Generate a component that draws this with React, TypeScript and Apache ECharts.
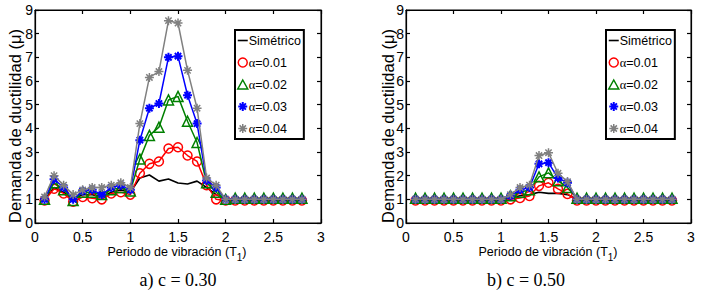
import React, { useEffect, useRef } from "react";
import * as echarts from "echarts";

// Period of vibration T1 (s)
const periods = [0.1, 0.2, 0.3, 0.4, 0.5, 0.6, 0.7, 0.8, 0.9, 1.0, 1.1, 1.2, 1.3, 1.4, 1.5, 1.6, 1.7, 1.8, 1.9, 2.0, 2.1, 2.2, 2.3, 2.4, 2.5, 2.6, 2.7, 2.8];

const seriesNames = ["Simétrico", "α=0.01", "α=0.02", "α=0.03", "α=0.04"];

// a) c = 0.30
const sim30 = [1.0, 1.5, 1.3, 1.0, 1.2, 1.2, 1.1, 1.3, 1.4, 1.3, 1.9, 2.03, 1.77, 1.86, 1.69, 1.65, 1.77, 1.5, 1.2, 1.0, 1.0, 1.0, 1.0, 1.0, 1.0, 1.0, 1.0, 1.0];
const a01_30 = [0.95, 1.45, 1.25, 0.9, 1.1, 1.05, 1.0, 1.25, 1.3, 1.2, 2.1, 2.5, 2.6, 3.15, 3.2, 2.85, 2.6, 1.6, 1.0, 0.95, 0.95, 0.95, 0.95, 0.95, 0.95, 0.95, 0.95, 0.95];
const a02_30 = [1.0, 1.7, 1.4, 0.95, 1.3, 1.3, 1.2, 1.4, 1.5, 1.35, 2.7, 3.7, 4.05, 5.2, 5.35, 4.3, 3.4, 1.7, 1.3, 1.0, 1.05, 1.05, 1.05, 1.05, 1.05, 1.05, 1.05, 1.05];
const a03_30 = [1.0, 1.85, 1.5, 1.0, 1.35, 1.4, 1.2, 1.5, 1.6, 1.4, 3.5, 4.85, 5.05, 7.0, 7.05, 5.4, 4.2, 1.8, 1.5, 1.0, 1.0, 1.0, 1.0, 1.0, 1.0, 1.0, 1.0, 1.0];
const a04_30 = [1.1, 2.0, 1.6, 1.2, 1.4, 1.5, 1.5, 1.6, 1.7, 1.5, 4.2, 6.15, 6.4, 8.55, 8.45, 6.45, 4.85, 1.9, 1.6, 1.0, 1.0, 1.0, 1.0, 1.0, 1.0, 1.0, 1.0, 1.0];

// b) c = 0.50
const sim50 = [1.0, 1.0, 1.0, 1.0, 1.0, 1.0, 1.0, 1.0, 1.0, 1.0, 1.05, 1.15, 1.2, 1.3, 1.25, 1.25, 1.2, 1.0, 1.0, 1.0, 1.0, 1.0, 1.0, 1.0, 1.0, 1.0, 1.0, 1.0];
const a01_50 = [0.95, 0.95, 0.95, 0.95, 0.95, 0.95, 0.95, 0.95, 0.95, 0.95, 1.0, 1.06, 1.14, 1.57, 1.7, 1.44, 1.23, 0.95, 0.95, 0.95, 0.95, 0.95, 0.95, 0.95, 0.95, 0.95, 0.95, 0.95];
const a02_50 = [1.05, 1.05, 1.05, 1.05, 1.05, 1.05, 1.05, 1.05, 1.05, 1.05, 1.15, 1.3, 1.4, 1.95, 2.12, 1.78, 1.5, 1.05, 1.05, 1.05, 1.05, 1.05, 1.05, 1.05, 1.05, 1.05, 1.05, 1.05];
const a03_50 = [1.0, 1.0, 1.0, 1.0, 1.0, 1.0, 1.0, 1.0, 1.0, 1.0, 1.15, 1.4, 1.5, 2.5, 2.55, 1.9, 1.7, 1.0, 1.0, 1.0, 1.0, 1.0, 1.0, 1.0, 1.0, 1.0, 1.0, 1.0];
const a04_50 = [1.0, 1.0, 1.0, 1.0, 1.0, 1.0, 1.0, 1.0, 1.0, 1.0, 1.2, 1.5, 1.6, 2.85, 2.97, 2.1, 1.75, 1.0, 1.0, 1.0, 1.0, 1.0, 1.0, 1.0, 1.0, 1.0, 1.0, 1.0];

const xTicks = { min: 0, max: 3, interval: 0.5 };
const yTicks = { min: 0, max: 9, interval: 1 };

const SANS = '"Liberation Sans", Arial, sans-serif';
const SERIF = '"Liberation Serif", "Times New Roman", serif';

const STAR = "path://M5,0L5,10M0,5L10,5M1.5,1.5L8.5,8.5M8.5,1.5L1.5,8.5";
const DASH = "path://M0,4.2L10,4.2L10,5.8L0,5.8Z";

const styles = [
  { color: "#000000", symbol: "none", icon: DASH, size: 0, width: 1.6 },
  { color: "#ff0000", symbol: "circle", icon: "circle", size: 9, width: 1.5 },
  { color: "#008000", symbol: "triangle", icon: "triangle", size: 10, width: 1.5 },
  { color: "#0000ff", symbol: STAR, icon: STAR, size: 9, width: 1.5 },
  { color: "#808080", symbol: STAR, icon: STAR, size: 9, width: 1.5 },
];

function pairs(ys: number[]) {
  return periods.map((x, i) => [x, ys[i]]);
}

function markerStyle(k: number) {
  const s = styles[k];
  return {
    color: k === 0 ? s.color : "rgba(0,0,0,0)",
    borderColor: s.color,
    borderWidth: k === 0 ? 0 : k === 3 ? 2 : 1.5,
  };
}

function makeSeries(sets: number[][], idx: number) {
  return sets.map((ys, k) => {
    const s = styles[k];
    return {
      type: "line",
      name: seriesNames[k],
      xAxisIndex: idx,
      yAxisIndex: idx,
      data: pairs(ys),
      symbol: s.symbol,
      symbolSize: s.size,
      showSymbol: s.symbol !== "none",
      showAllSymbol: true,
      lineStyle: { color: s.color, width: s.width },
      itemStyle: markerStyle(k),
      emphasis: { disabled: true },
      z: 2 + k,
    };
  });
}

function xAxis(grid: number, top: boolean) {
  return {
    type: "value",
    gridIndex: grid,
    position: top ? "top" : "bottom",
    ...xTicks,
    axisLine: { show: true, onZero: false, lineStyle: { color: "#000", width: 1.2 } },
    axisTick: { show: true, inside: true, length: 4, lineStyle: { color: "#000", width: 1.2 } },
    axisLabel: { show: !top, color: "#000", fontSize: 14, fontFamily: SANS, margin: 7 },
    splitLine: { show: false },
  };
}

function yAxis(grid: number, right: boolean) {
  return {
    type: "value",
    gridIndex: grid,
    position: right ? "right" : "left",
    ...yTicks,
    axisLine: { show: true, onZero: false, lineStyle: { color: "#000", width: 1.2 } },
    axisTick: { show: true, inside: true, length: 4, lineStyle: { color: "#000", width: 1.2 } },
    axisLabel: { show: !right, color: "#000", fontSize: 14, fontFamily: SANS, margin: 2 },
    splitLine: { show: false },
  };
}

function legend(left: number) {
  return {
    show: true,
    left,
    top: 30,
    orient: "vertical",
    data: seriesNames.map((name, k) => ({
      name,
      icon: styles[k].icon,
      itemStyle: markerStyle(k),
    })),
    backgroundColor: "#fff",
    borderColor: "#000",
    borderWidth: 2,
    borderRadius: 0,
    padding: [4, 3, 4, 2],
    itemGap: 9,
    itemWidth: 10,
    itemHeight: 9,
    selectedMode: false,
    formatter: (name: string) => (name.startsWith("α") ? "{g|α}" + name.slice(1) : name),
    textStyle: {
      color: "#000",
      fontSize: 12.5,
      fontFamily: SANS,
      padding: [0, 0, 0, -4],
      rich: { g: { fontFamily: SERIF, fontSize: 12.5, color: "#000" } },
    },
  };
}

function xTitle(cx: number) {
  return {
    type: "text",
    x: cx,
    y: 252,
    style: {
      text: "Periodo de vibración (T{s|1})",
      fontSize: 12.5,
      fontFamily: SANS,
      fill: "#000",
      align: "center",
      verticalAlign: "middle",
      rich: { s: { fontSize: 10, fontFamily: SANS, fill: "#000", padding: [11, 0, 0, 0] } },
    },
  };
}

function yTitle(cx: number) {
  return {
    type: "text",
    x: cx,
    y: 126,
    rotation: Math.PI / 2,
    style: {
      text: "Demanda de ductilidad (μ)",
      fontSize: 16.5,
      fontFamily: SANS,
      fill: "#000",
      align: "center",
      verticalAlign: "middle",
    },
  };
}

function caption(cx: number, text: string) {
  return {
    type: "text",
    x: cx,
    y: 280,
    style: {
      text,
      fontSize: 18,
      fontFamily: SERIF,
      fill: "#000",
      align: "center",
      verticalAlign: "middle",
    },
  };
}

export default function App() {
  const ref = useRef<HTMLDivElement>(null);
  useEffect(() => {
    if (!ref.current) return;
    const chart = echarts.init(ref.current, null, { renderer: "svg" });
    chart.setOption({
      animation: false,
      backgroundColor: "#fff",
      grid: [
        { left: 35, top: 10, width: 286, height: 213, show: true, borderColor: "#000", borderWidth: 1, backgroundColor: "#fff" },
        { left: 406, top: 10, width: 285, height: 213, show: true, borderColor: "#000", borderWidth: 1, backgroundColor: "#fff" },
      ],
      xAxis: [xAxis(0, false), xAxis(1, false), xAxis(0, true), xAxis(1, true)],
      yAxis: [yAxis(0, false), yAxis(1, false), yAxis(0, true), yAxis(1, true)],
      legend: [legend(235), legend(606)],
      series: [
        ...makeSeries([sim30, a01_30, a02_30, a03_30, a04_30], 0),
        ...makeSeries([sim50, a01_50, a02_50, a03_50, a04_50], 1),
      ],
      graphic: [
        yTitle(15),
        yTitle(388),
        xTitle(177),
        xTitle(548),
        caption(178, "a) c = 0.30"),
        caption(526, "b) c = 0.50"),
      ],
    });
    return () => chart.dispose();
  }, []);
  return (
    <div
      ref={ref}
      style={{ position: "absolute", left: 0, top: 0, width: 707, height: 292, background: "#fff" }}
    />
  );
}
